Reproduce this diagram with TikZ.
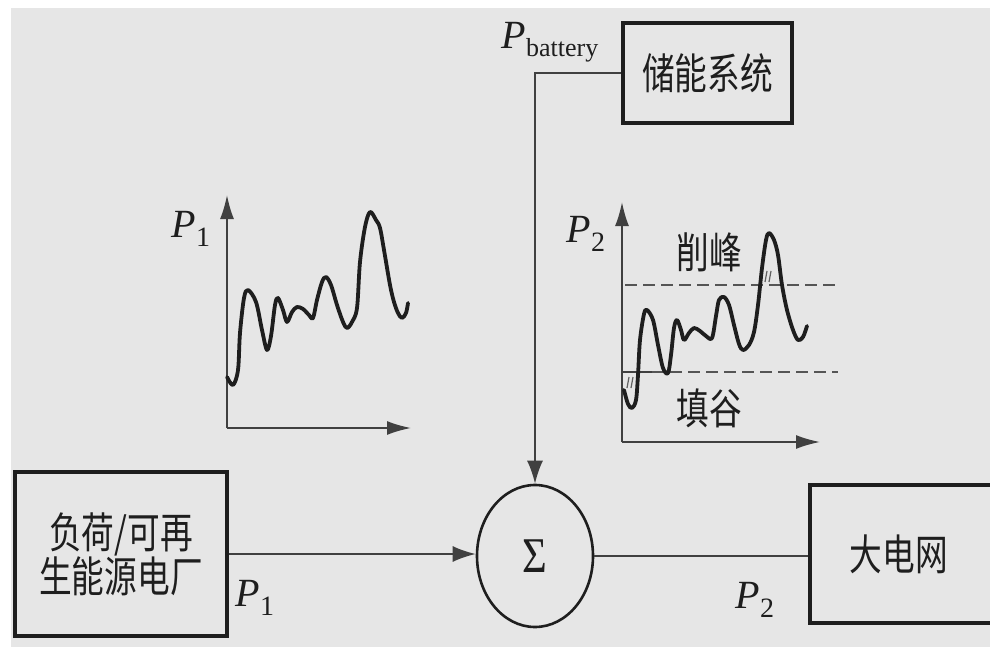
\documentclass[tikz,border=0pt]{standalone}
\usepackage{fontspec}
\usepackage{graphicx}
\setmainfont{Liberation Serif}
\newfontfamily\cjk{Noto Sans CJK SC}
\usetikzlibrary{arrows.meta,shapes.geometric}
\definecolor{bg}{HTML}{E6E6E6}
\definecolor{ink}{HTML}{1E1E1E}
\definecolor{dash}{HTML}{555555}
\newcommand\cjkx[1]{\scalebox{0.86}[1.12]{#1}}
\tikzset{
  blk/.style={draw=ink,line width=3.2pt,fill=none,inner sep=0pt,align=center,font=\cjk\fontsize{38}{46}\selectfont,text=ink},
  conn/.style={draw=ink!85,line width=1.8pt},
  tip/.style={-{Latex[length=23pt,width=16pt]}},
  axis/.style={draw=ink!85,line width=1.8pt,-{Latex[length=24pt,width=14pt]}},
  curve/.style={draw=ink,line width=3.8pt,line join=round,line cap=round},
  lbl/.style={font=\fontsize{40}{44}\selectfont\itshape,text=ink,inner sep=0pt},
  cn/.style={font=\cjk\fontsize{38}{40}\selectfont,text=ink,inner sep=0pt},
  lvl/.style={draw=dash,line width=2pt,dash pattern=on 12pt off 6pt},
}
\begin{document}
\begin{tikzpicture}[x=1pt,y=-1pt]
\useasboundingbox (0,0) rectangle (990,647);
\fill[white] (0,0) rectangle (990,647);
\fill[bg] (11,8) rectangle (990,647);
\clip (0,0) rectangle (990,647);

% blocks
\node[blk,minimum width=169pt,minimum height=100pt] (store) at (707.5,73) {\cjkx{储能系统}};
\node[blk,minimum width=212pt,minimum height=164pt] (src) at (121,554) {\cjkx{负荷/可再}\\[-2pt]\cjkx{生能源电厂}};
\node[blk,minimum width=200pt,minimum height=138pt] (grid) at (910,554) {\hspace*{-22pt}\cjkx{大电网}};
\node[draw=ink,line width=2.6pt,ellipse,minimum width=116pt,minimum height=142pt,inner sep=0pt,
      font=\fontsize{50}{54}\selectfont,text=ink] (sum) at (535,556) {\scalebox{0.85}[1]{Σ}};

% connectors
\draw[conn,tip] (store.west) -| (sum.north);
\draw[conn,tip] (src.east) -- (src.east -| sum.west);
\draw[conn] (sum.east) -- (sum.east -| grid.west);

% labels
\node[lbl] (pb) at (550,42) {P\fontsize{26}{28}\selectfont\upshape\raisebox{-8pt}{battery}};
\node[lbl] (p1) at (255,598) {P\upshape\fontsize{28}{30}\selectfont\raisebox{-9pt}{1}};
\node[lbl] (p2) at (755,600) {P\upshape\fontsize{28}{30}\selectfont\raisebox{-9pt}{2}};

% plot 1
\coordinate (o1) at (227,428);
\coordinate (y1) at (227,195);
\coordinate (x1) at (411,428);
\draw[axis] (o1) -- (y1);
\draw[axis] (o1) -- (x1);
\node[lbl] (ly1) at (191,229) {P\upshape\fontsize{28}{30}\selectfont\raisebox{-9pt}{1}};
\draw[curve] plot[smooth,tension=0.55] coordinates {
 (227,377) (233,385) (238,370) (240,333) (244,298) (248,290) (256,302) (262,330) (267,350) (271,336) (275,305) (278,298)
 (283,310) (287,322) (292,312) (297,307) (303,309) (309,315) (313,318) (317,300) (322,282) (326,277) (331,285) (337,305) (343,322) (347,328)
 (352,322) (357,308) (360,262) (365,227) (370,212) (376,220) (380,228) (384,250) (390,285) (394,302) (398,313) (402,318) (406,313) (408,303)};

% plot 2
\coordinate (o2) at (622,442);
\coordinate (y2) at (622,202);
\coordinate (x2) at (820,442);
\draw[axis] (o2) -- (y2);
\draw[axis] (o2) -- (x2);
\node[lbl] (ly2) at (586,234) {P\upshape\fontsize{28}{30}\selectfont\raisebox{-9pt}{2}};
\coordinate (hi0) at (625,285);
\coordinate (hi1) at (838,285);
\coordinate (lo0) at (622,372);
\coordinate (lo1) at (652,372);
\coordinate (lo2) at (838,372);
\draw[lvl] (hi0) -- (hi1);
\draw[draw=ink!85,line width=2pt] (lo0) -- (lo1);
\draw[lvl] (lo1) -- (lo2);
\node[cn] (peak) at (709,252) {\cjkx{削峰}};
\node[cn] (valley) at (709,408) {\cjkx{填谷}};
\draw[curve] plot[smooth,tension=0.55] coordinates {
 (624,390) (628,404) (632,408) (636,400) (638,375) (640,340) (644,314) (647,310) (653,320) (658,345) (663,368) (668,373) (671,355) (674,328) (677,320)
 (681,330) (684,340) (689,333) (694,328) (700,331) (706,336) (712,338) (716,316) (719,300) (724,297) (729,305) (734,325) (739,344) (743,350)
 (749,345) (754,332) (758,305) (762,268) (766,240) (769,233) (774,240) (778,255) (782,285) (787,310) (793,330) (798,340) (803,337) (807,326)};
% hatch marks
\draw[draw=ink!70,line width=1.2pt] (627,388) -- (629,377) (631,388) -- (633,377);
\draw[draw=ink!70,line width=1.2pt] (765,282) -- (767,271) (769,282) -- (771,271);
\end{tikzpicture}
\end{document}
